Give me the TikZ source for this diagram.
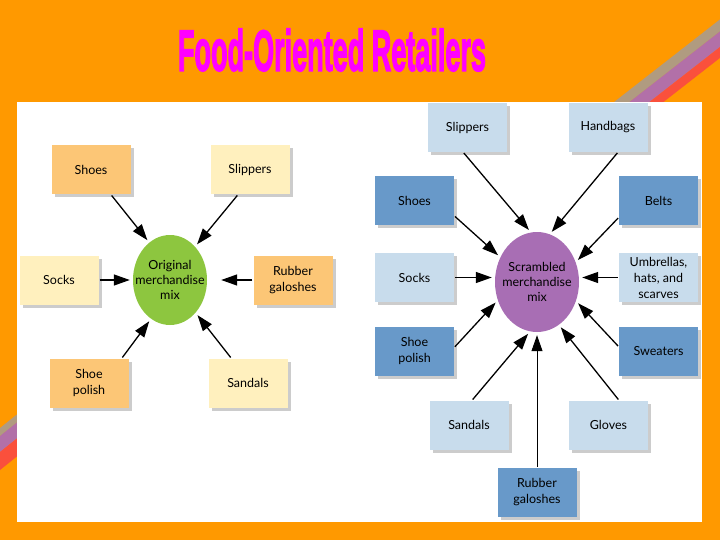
\documentclass[tikz,border=0pt]{standalone}
\usepackage{fontspec}
\usepackage{graphicx}
\setmainfont{Lato}
\newfontfamily\titlefont[BoldFeatures={FakeBold=3}]{Liberation Sans}
\usetikzlibrary{arrows.meta, shapes.geometric, shadows, positioning}

\definecolor{bgorange}{RGB}{255,153,0}
\definecolor{boxorange}{RGB}{252,198,118}
\definecolor{boxcream}{RGB}{255,240,190}
\definecolor{boxlight}{RGB}{200,220,236}
\definecolor{boxdark}{RGB}{104,153,201}
\definecolor{mixgreen}{RGB}{141,198,63}
\definecolor{mixpurple}{RGB}{168,110,180}
\definecolor{stripetan}{RGB}{176,155,128}
\definecolor{stripepurple}{RGB}{178,112,168}
\definecolor{stripered}{RGB}{250,80,60}
\definecolor{titlemagenta}{RGB}{255,0,255}

\begin{document}
\begin{tikzpicture}[
    x=1pt, y=-1pt, >={Triangle[length=16pt, width=11pt]},
    % --- STYLES ---
    item/.style={rectangle, minimum width=79pt, minimum height=49pt, inner sep=2pt, align=center,
        font=\fontsize{12.5}{16}\selectfont, text=black,
        drop shadow={shadow xshift=3pt, shadow yshift=-3pt, fill=black!20, opacity=1}},
    item_orange/.style={item, fill=boxorange},
    item_cream/.style={item, fill=boxcream},
    item_light/.style={item, fill=boxlight},
    item_dark/.style={item, fill=boxdark},
    mix_green/.style={ellipse, fill=mixgreen, minimum width=74pt, minimum height=90pt, inner sep=0pt},
    mix_purple/.style={ellipse, fill=mixpurple, minimum width=84pt, minimum height=100pt, inner sep=0pt},
    mix_text/.style={align=center, font=\fontsize{12.5}{15}\selectfont, text=black},
    % Flow Styles
    feed/.style={->, line width=1.3pt, shorten >=3pt, shorten <=1pt},
    title_text/.style={font=\titlefont\bfseries, text=titlemagenta, inner sep=0pt}
]
\clip (0,0) rectangle (720,540);

% --- 1. BACKGROUND, STRIPES AND PANEL ---
\fill[bgorange] (0,0) rectangle (720,540);
\foreach \ca/\cb/\col in {581/593/stripetan, 593/608.6/stripepurple, 608.6/619.5/stripered} {
    \fill[\col] (560,{\ca-0.78*560}) -- (730,{\ca-0.78*730}) -- (730,{\cb-0.78*730}) -- (560,{\cb-0.78*560}) -- cycle;
}
\foreach \ca/\cb/\col in {428/436/stripetan, 436/452/stripepurple, 452/470/stripered} {
    \fill[\col] (-10,{\ca+8}) -- (40,{\ca-32}) -- (40,{\cb-32}) -- (-10,{\cb+8}) -- cycle;
}
\fill[white] (17,102) rectangle (702,522);

% --- 2. TITLE ---
\node[title_text] (title) at (332,50) {\resizebox{308pt}{42pt}{Food-Oriented Retailers}};

% --- 3. ORIGINAL MIX (Left) ---
\node[mix_green] (origL) at (170,280) {};
\node[mix_text] at (origL) {Original\\merchandise\\mix};

\node[item_orange] (shoesL) at (91,170) {Shoes};
\node[item_cream] (slipL) at (250,170) {Slippers};
\node[item_cream] (socksL) at (59,280) {Socks};
\node[item_orange] (rubL) at (293,280) {Rubber\\galoshes};
\node[item_orange] (polishL) at (89,383) {Shoe\\polish};
\node[item_cream] (sandL) at (248,383) {Sandals};

\draw[feed] (shoesL.309) -- (origL.119);
\draw[feed] (slipL.244) -- (origL.53);
\draw[feed] (socksL.east) -- (origL.west);
\draw[feed, shorten >=14pt] (rubL.west) -- (origL.east);
\draw[feed] (polishL.37) -- (origL.244);
\draw[feed] (sandL.124) -- (origL.308);

% --- 4. SCRAMBLED MIX (Right) ---
\node[mix_purple] (scrR) at (537,282) {};
\node[mix_text] at (scrR) {Scrambled\\merchandise\\mix};

\node[item_light] (slipR) at (467.5,127.5) {Slippers};
\node[item_light] (handR) at (608,127.5) {Handbags};
\node[item_dark] (shoesR) at (414.5,200.5) {Shoes};
\node[item_dark] (beltR) at (658.5,200.5) {Belts};
\node[item_light] (socksR) at (414.5,277.5) {Socks};
\node[item_light] (umbR) at (658.5,277.5) {Umbrellas,\\hats, and\\scarves};
\node[item_dark] (polishR) at (414.5,351) {Shoe\\polish};
\node[item_dark] (sweatR) at (658.5,351) {Sweaters};
\node[item_light] (sandR) at (469,425) {Sandals};
\node[item_light] (gloveR) at (608.5,425) {Gloves};
\node[item_dark] (rubR) at (537,492.5) {Rubber\\galoshes};

\draw[feed] (slipR.260) -- (scrR.97);
\draw[feed] (handR.292) -- (scrR.75);
\draw[feed] (shoesR.339) -- (scrR.146);
\draw[feed] (beltR.203) -- (scrR.27);
\draw[feed] (socksR.east) -- (socksR.east -| scrR.west);
\draw[feed] (umbR.west) -- (umbR.west -| scrR.east);
\draw[feed] (polishR.5) -- (scrR.205);
\draw[feed] (sweatR.174) -- (scrR.334);
\draw[feed] (sandR.83) -- (scrR.262);
\draw[feed] (gloveR.67) -- (scrR.297);
\draw[feed, line width=0.9pt] (rubR.north) -- (scrR.south);

\end{tikzpicture}
\end{document}
